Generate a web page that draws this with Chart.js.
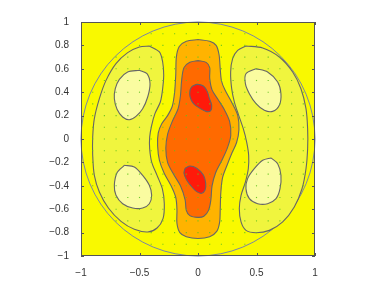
<!DOCTYPE html>
<html>
<head>
<meta charset="utf-8">
<script src="https://cdn.jsdelivr.net/npm/chart.js@4"></script>
<style>
  html, body { margin: 0; padding: 0; background: #fff; }
  canvas { display: block; }
</style>
</head>
<body>
<canvas id="contourChart" width="382" height="289"></canvas>
<script>
// Tick labels
const xTicks = [-1, -0.5, 0, 0.5, 1];
const yTicks = [-1, -0.8, -0.6, -0.4, -0.2, 0, 0.2, 0.4, 0.6, 0.8, 1];

// Contour outlines (data units)
const lobeLeft = [
    [-0.416, 0.795], [-0.330, 0.744], [-0.302, 0.658], [-0.293, 0.544], [-0.302, 0.430],
    [-0.322, 0.316], [-0.368, 0.217], [-0.396, 0.117], [-0.413, 0.017], [-0.413, -0.083],
    [-0.396, -0.197], [-0.350, -0.311], [-0.305, -0.425], [-0.288, -0.553], [-0.299, -0.681],
    [-0.350, -0.761], [-0.430, -0.795], [-0.544, -0.772], [-0.658, -0.704], [-0.766, -0.590],
    [-0.843, -0.453], [-0.886, -0.311], [-0.900, -0.140], [-0.900, 0.017], [-0.886, 0.174],
    [-0.843, 0.345], [-0.786, 0.501], [-0.701, 0.644], [-0.601, 0.738], [-0.501, 0.786]
];
const lobeRight = [
    [0.410, 0.795], [0.553, 0.778], [0.695, 0.701], [0.809, 0.573], [0.880, 0.430],
    [0.923, 0.259], [0.937, 0.088], [0.937, -0.083], [0.923, -0.254], [0.889, -0.425],
    [0.823, -0.581], [0.724, -0.709], [0.610, -0.781], [0.496, -0.801], [0.410, -0.781],
    [0.368, -0.709], [0.353, -0.595], [0.368, -0.481], [0.405, -0.368], [0.430, -0.254],
    [0.433, -0.140], [0.416, -0.026], [0.387, 0.088], [0.348, 0.202], [0.311, 0.316],
    [0.288, 0.430], [0.279, 0.573], [0.296, 0.687], [0.339, 0.758]
];
const paleTopLeft = [
    [-0.501, 0.587], [-0.436, 0.558], [-0.410, 0.473], [-0.430, 0.359], [-0.473, 0.259],
    [-0.530, 0.194], [-0.587, 0.165], [-0.644, 0.188], [-0.692, 0.254], [-0.715, 0.345],
    [-0.707, 0.430], [-0.672, 0.510], [-0.601, 0.573]
];
const paleBottomLeft = [
    [-0.630, -0.225], [-0.544, -0.239], [-0.473, -0.311], [-0.416, -0.396], [-0.396, -0.481],
    [-0.416, -0.553], [-0.473, -0.590], [-0.558, -0.590], [-0.644, -0.553], [-0.701, -0.481],
    [-0.715, -0.396], [-0.692, -0.288]
];
const paleTopRight = [
    [0.496, 0.601], [0.595, 0.573], [0.681, 0.487], [0.709, 0.387], [0.695, 0.288],
    [0.638, 0.236], [0.567, 0.245], [0.496, 0.302], [0.439, 0.387], [0.405, 0.473],
    [0.410, 0.558]
];
const paleBottomRight = [
    [0.624, -0.162], [0.681, -0.211], [0.709, -0.311], [0.701, -0.425], [0.667, -0.510],
    [0.595, -0.553], [0.510, -0.553], [0.439, -0.510], [0.410, -0.425], [0.424, -0.339],
    [0.481, -0.254], [0.553, -0.182]
];
const orangeBand = [
    [0, 0.85], [0.10, 0.835], [0.155, 0.80], [0.18, 0.72], [0.19, 0.60], [0.20, 0.50],
    [0.23, 0.42], [0.29, 0.31], [0.34, 0.20], [0.35, 0.08], [0.33, -0.03], [0.29, -0.12],
    [0.25, -0.22], [0.21, -0.33], [0.195, -0.46], [0.19, -0.60], [0.185, -0.71], [0.16, -0.79],
    [0.10, -0.835], [0, -0.85], [-0.10, -0.835], [-0.155, -0.80], [-0.18, -0.72], [-0.18, -0.60],
    [-0.19, -0.50], [-0.23, -0.40], [-0.29, -0.29], [-0.33, -0.18], [-0.345, -0.06], [-0.34, 0.05],
    [-0.31, 0.13], [-0.26, 0.20], [-0.22, 0.28], [-0.20, 0.40], [-0.19, 0.55], [-0.185, 0.70],
    [-0.16, 0.79], [-0.10, 0.835]
];
const darkOrangeBand = [
    [0, 0.67], [0.07, 0.655], [0.10, 0.61], [0.10, 0.52], [0.12, 0.42], [0.17, 0.34],
    [0.22, 0.26], [0.27, 0.15], [0.28, 0.03], [0.25, -0.08], [0.20, -0.19], [0.15, -0.29],
    [0.12, -0.40], [0.11, -0.52], [0.09, -0.61], [0.05, -0.66], [0, -0.67], [-0.07, -0.655],
    [-0.10, -0.61], [-0.11, -0.52], [-0.15, -0.40], [-0.21, -0.30], [-0.26, -0.20], [-0.275, -0.08],
    [-0.26, 0.04], [-0.22, 0.15], [-0.17, 0.26], [-0.15, 0.37], [-0.14, 0.50], [-0.12, 0.61],
    [-0.07, 0.655]
];
const redTop = [
    [-0.054, 0.447], [-0.011, 0.467], [0.046, 0.453], [0.080, 0.404], [0.097, 0.348],
    [0.117, 0.291], [0.108, 0.242], [0.074, 0.234], [0.017, 0.262], [-0.040, 0.305],
    [-0.068, 0.362], [-0.068, 0.419]
];
const redBottom = [
    [-0.111, -0.250], [-0.068, -0.231], [-0.011, -0.250], [0.046, -0.308], [0.066, -0.379],
    [0.060, -0.436], [0.031, -0.464], [-0.011, -0.450], [-0.054, -0.408], [-0.097, -0.350],
    [-0.120, -0.293]
];

// Quiver sample grid (one value per row / column)
const gridVals = [-0.9, -0.8, -0.7, -0.6, -0.5, -0.4, -0.3, -0.2, -0.1, 0,
                  0.1, 0.2, 0.3, 0.4, 0.5, 0.6, 0.7, 0.8, 0.9];
const domainRadius = 1;

const BASE_YELLOW = '#f9f900';
const LEVEL_COLORS = {
    lobe: '#f0f53e',
    pale: '#fafca0',
    orange: '#ffb300',
    darkOrange: '#ff6a00',
    red: '#ff1a0a'
};
const LINE_COLOR = '#666666';

function region(points, color, order) {
    const data = points.map(p => ({ x: p[0], y: p[1] }));
    data.push({ x: points[0][0], y: points[0][1] });
    return {
        data: data,
        showLine: true,
        fill: 'shape',
        backgroundColor: color,
        borderColor: LINE_COLOR,
        borderWidth: 1.1,
        pointRadius: 0,
        tension: 0.3,
        order: order
    };
}

const quiverPoints = [];
gridVals.forEach(gx => {
    gridVals.forEach(gy => {
        if (gx * gx + gy * gy < domainRadius) quiverPoints.push({ x: gx, y: gy });
    });
});

const datasets = [
    region(lobeLeft, LEVEL_COLORS.lobe, 6),
    region(lobeRight, LEVEL_COLORS.lobe, 6),
    region(paleTopLeft, LEVEL_COLORS.pale, 5),
    region(paleBottomLeft, LEVEL_COLORS.pale, 5),
    region(paleTopRight, LEVEL_COLORS.pale, 5),
    region(paleBottomRight, LEVEL_COLORS.pale, 5),
    region(orangeBand, LEVEL_COLORS.orange, 4),
    region(darkOrangeBand, LEVEL_COLORS.darkOrange, 3),
    region(redTop, LEVEL_COLORS.red, 2),
    region(redBottom, LEVEL_COLORS.red, 2),
    {
        data: quiverPoints,
        showLine: false,
        pointStyle: 'rect',
        pointRadius: 0.8,
        pointBorderWidth: 0,
        pointBackgroundColor: 'rgba(95, 195, 30, 0.9)',
        order: 1
    }
];

// Background fill, domain circle, MATLAB-style box with inward ticks
const framePlugin = {
    id: 'frame',
    beforeDatasetsDraw(chart) {
        const { ctx, chartArea: a, scales } = chart;
        ctx.save();
        ctx.fillStyle = BASE_YELLOW;
        ctx.fillRect(a.left, a.top, a.right - a.left, a.bottom - a.top);
        const cx = scales.x.getPixelForValue(0);
        const cy = scales.y.getPixelForValue(0);
        const r = scales.x.getPixelForValue(domainRadius) - cx;
        ctx.beginPath();
        ctx.arc(cx, cy, r, 0, Math.PI * 2);
        ctx.strokeStyle = '#7a86a6';
        ctx.lineWidth = 1;
        ctx.stroke();
        ctx.restore();
    },
    afterDatasetsDraw(chart) {
        const { ctx, chartArea: a, scales } = chart;
        const len = 3;
        ctx.save();
        ctx.strokeStyle = '#555';
        ctx.lineWidth = 1;
        ctx.strokeRect(a.left + 0.5, a.top + 0.5, a.right - a.left - 1, a.bottom - a.top - 1);
        ctx.beginPath();
        xTicks.forEach(v => {
            const px = Math.round(scales.x.getPixelForValue(v)) + 0.5;
            ctx.moveTo(px, a.bottom); ctx.lineTo(px, a.bottom - len);
            ctx.moveTo(px, a.top); ctx.lineTo(px, a.top + len);
        });
        yTicks.forEach(v => {
            const py = Math.round(scales.y.getPixelForValue(v)) + 0.5;
            ctx.moveTo(a.left, py); ctx.lineTo(a.left + len, py);
            ctx.moveTo(a.right, py); ctx.lineTo(a.right - len, py);
        });
        ctx.stroke();
        ctx.restore();
    }
};

function fmt(v) {
    const s = String(Math.round(v * 10) / 10);
    return s.replace('-', '\u2212');
}

const tickFont = { family: "'Liberation Sans', Arial, sans-serif", size: 10 };

new Chart(document.getElementById('contourChart'), {
    type: 'scatter',
    data: { datasets: datasets },
    options: {
        responsive: false,
        animation: false,
        layout: { padding: { left: 0, right: 67, top: 22, bottom: 13 } },
        plugins: { legend: { display: false }, tooltip: { enabled: false } },
        scales: {
            x: {
                type: 'linear', min: -1, max: 1,
                grid: { display: false },
                border: { display: false },
                afterBuildTicks: s => { s.ticks = xTicks.map(v => ({ value: v })); },
                afterFit: s => { s.height = 20; },
                ticks: { padding: 3, color: '#333', font: tickFont, callback: v => fmt(v), maxRotation: 0 }
            },
            y: {
                type: 'linear', min: -1, max: 1,
                grid: { display: false },
                border: { display: false },
                afterBuildTicks: s => { s.ticks = yTicks.map(v => ({ value: v })); },
                afterFit: s => { s.width = 81; },
                ticks: { padding: 4, color: '#333', font: tickFont, callback: v => fmt(v) }
            }
        }
    },
    plugins: [framePlugin]
});
</script>
</body>
</html>
